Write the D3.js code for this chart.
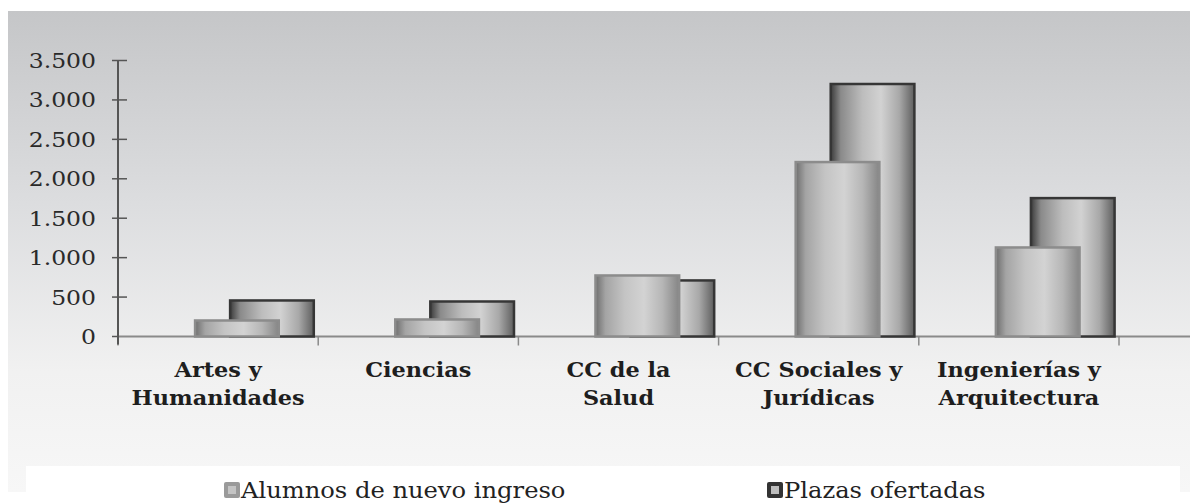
<!DOCTYPE html>
<html><head><meta charset="utf-8">
<script src="https://cdn.jsdelivr.net/npm/d3@7/dist/d3.min.js"></script>
<style>html,body{margin:0;padding:0;background:#fff;}svg{display:block;}</style>
</head><body>
<script>
const categories = ["Artes y Humanidades","Ciencias","CC de la Salud","CC Sociales y Jurídicas","Ingenierías y Arquitectura"];
const categoryLines = [["Artes y","Humanidades"],["Ciencias"],["CC de la","Salud"],["CC Sociales y","Jurídicas"],["Ingenierías y","Arquitectura"]];
const seriesNames = ["Alumnos de nuevo ingreso","Plazas ofertadas"];
const alumnos = [222, 235, 793, 2231, 1148];
const plazas = [476, 463, 730, 3221, 1774];
const yTicks = [0,500,1000,1500,2000,2500,3000,3500];
const yTickLabels = ["0","500","1.000","1.500","2.000","2.500","3.000","3.500"];

const W = 1190, H = 503;
const svg = d3.select("body").append("svg").attr("width", W).attr("height", H);
const defs = svg.append("defs");

// background gradient
const bg = defs.append("linearGradient").attr("id","bg").attr("x1",0).attr("y1",0).attr("x2",0).attr("y2",1);
bg.append("stop").attr("offset","0%").attr("stop-color","#c5c6c8");
bg.append("stop").attr("offset","40%").attr("stop-color","#dcdddf");
bg.append("stop").attr("offset","75%").attr("stop-color","#f1f1f1");
bg.append("stop").attr("offset","100%").attr("stop-color","#f7f7f7");

function cyl(id, stops){
  const g = defs.append("linearGradient").attr("id",id).attr("x1",0).attr("y1",0).attr("x2",1).attr("y2",0);
  stops.forEach(s=>g.append("stop").attr("offset",s[0]).attr("stop-color",s[1]));
}
cyl("gA", [["0%","#6e6e6e"],["12%","#a4a4a4"],["35%","#c4c4c4"],["58%","#d3d3d3"],["80%","#b6b6b6"],["100%","#858585"]]);
cyl("gP", [["0%","#3c3c3c"],["12%","#8a8a8a"],["38%","#bdbdbd"],["60%","#d2d2d2"],["82%","#a8a8a8"],["100%","#5e5e5e"]]);

svg.append("rect").attr("x",8).attr("y",11).attr("width",W-8).attr("height",481).attr("fill","url(#bg)");

const x = d3.scaleBand().domain(categories).range([118, 1119]).paddingInner(0).paddingOuter(0);
const y = d3.scaleLinear().domain([0, 3500]).range([336.5, 60.5]);
const bw = x.bandwidth();
const offA = bw*0.385, offP = bw*0.56, barW = bw*0.418;

// x axis line
svg.append("line").attr("x1",118).attr("x2",W).attr("y1",y(0)).attr("y2",y(0)).attr("stroke","#8a8a8a").attr("stroke-width",2);
// category ticks
const catTicks = categories.map(c=>x(c)).concat([x(categories[categories.length-1])+bw]);
svg.selectAll(".ct").data(catTicks).join("line").attr("x1",d=>d).attr("x2",d=>d)
  .attr("y1",y(0)).attr("y2",y(0)+9).attr("stroke","#8a8a8a").attr("stroke-width",1.5);

// bars: Plazas behind
svg.selectAll(".bp").data(plazas).join("rect")
  .attr("x",(d,i)=>x(categories[i])+offP).attr("y",d=>y(d)+1.5)
  .attr("width",barW).attr("height",d=>y(0)-y(d)-1.5)
  .attr("fill","url(#gP)").attr("stroke","#363636").attr("stroke-width",2.5);
svg.selectAll(".ba").data(alumnos).join("rect")
  .attr("x",(d,i)=>x(categories[i])+offA).attr("y",d=>y(d)+1.5)
  .attr("width",barW).attr("height",d=>y(0)-y(d)-1.5)
  .attr("fill","url(#gA)").attr("stroke","#8c8c8c").attr("stroke-width",2.5);

// y axis
svg.append("line").attr("x1",118).attr("x2",118).attr("y1",y(3500)).attr("y2",y(0)+8).attr("stroke","#555").attr("stroke-width",2);
svg.selectAll(".yt").data(yTicks).join("line").attr("x1",112).attr("x2",d=>d===0?118:127)
  .attr("y1",d=>y(d)).attr("y2",d=>y(d)).attr("stroke","#555").attr("stroke-width",1.5);
svg.selectAll(".yl").data(yTicks).join("text")
  .attr("transform",d=>`translate(96,${y(d)+7.5}) scale(1.12,1)`)
  .attr("text-anchor","end").attr("font-family","DejaVu Serif").attr("font-size",21).attr("fill","#2a2a2a")
  .text((d,i)=>yTickLabels[i]);

// category labels
const cl = svg.selectAll(".cl").data(categories).join("text")
  .attr("transform",c=>`translate(${x(c)+bw/2},377) scale(1.12,1)`)
  .attr("text-anchor","middle").attr("font-family","DejaVu Serif").attr("font-weight","bold").attr("font-size",20).attr("fill","#1e1e1e");
cl.each(function(c,i){
  d3.select(this).selectAll("tspan").data(categoryLines[i]).join("tspan")
    .attr("x",0).attr("dy",(d,j)=>j===0?0:28).text(d=>d);
});

// legend
svg.append("rect").attr("x",26).attr("y",466).attr("width",1154).attr("height",26).attr("fill","#fff");
const legX = [224, 767];
const legFill = [["#9a9a9a","#c4c4c4"],["#333","#bdbdbd"]];
seriesNames.forEach((s,i)=>{
  const g = svg.append("g").attr("transform",`translate(${legX[i]},482)`);
  g.append("rect").attr("x",0).attr("y",0).attr("width",16).attr("height",16).attr("rx",2).attr("fill",legFill[i][0]);
  g.append("rect").attr("x",4).attr("y",4).attr("width",8).attr("height",8).attr("fill",legFill[i][1]);
  g.append("text").attr("transform","translate(17,16) scale(1.1,1)").attr("font-family","DejaVu Serif").attr("font-size",22).attr("fill","#222").text(s);
});
</script>
</body></html>
